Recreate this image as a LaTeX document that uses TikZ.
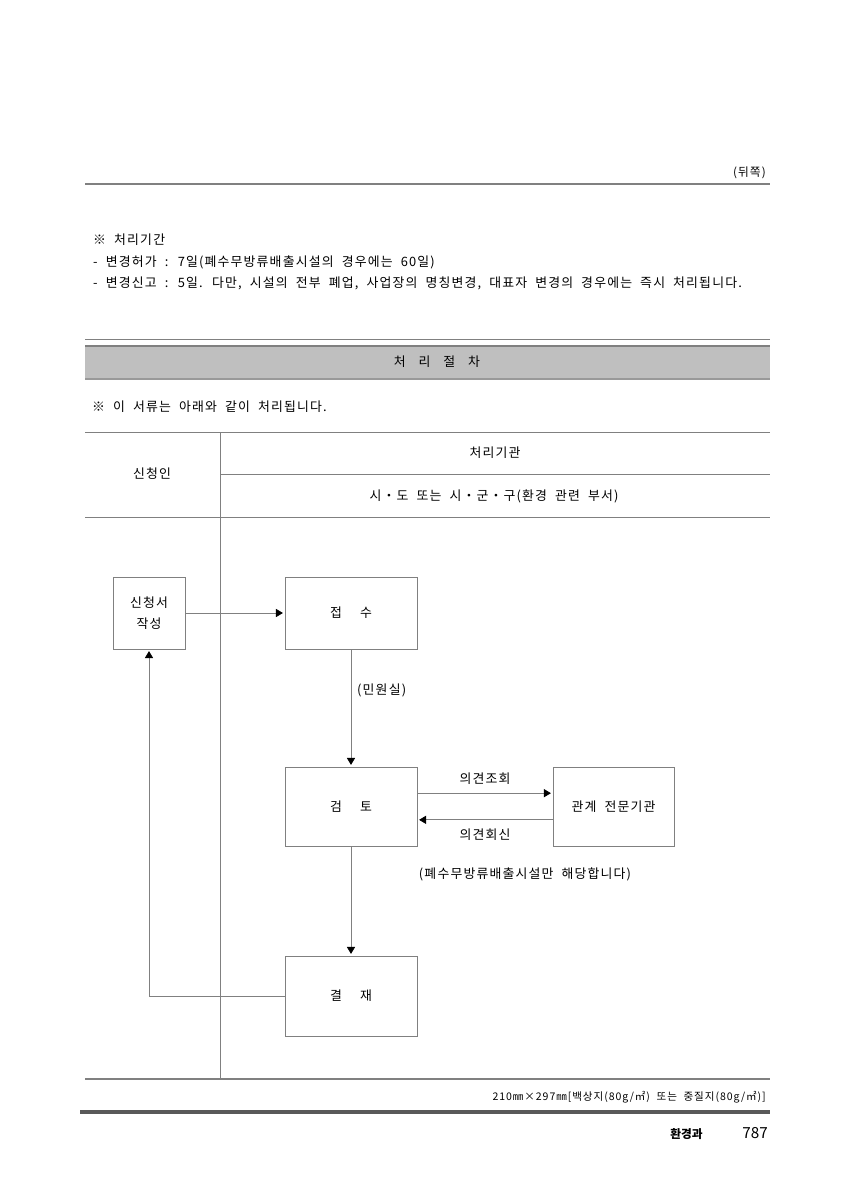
\documentclass[tikz,border=0pt]{standalone}
\usepackage{fontspec}
\setmainfont{Noto Sans CJK KR}[WordSpace=2.0, LetterSpace=9]
\usetikzlibrary{arrows.meta}

\tikzset{
  box/.style={draw=gray, line width=0.6pt, minimum width=3.96cm, minimum height=2.16cm, inner sep=0pt, font=\fontsize{11}{18}\selectfont},
  flow/.style={draw=gray, line width=0.6pt, -{Triangle[color=black, length=6pt, width=7pt]}, shorten >=1.5pt},
  txt/.style={inner sep=0pt, font=\fontsize{11}{13}\selectfont},
  rule/.style={gray, line width=0.8pt},
}

\begin{document}
\begin{tikzpicture}[x=0.03cm, y=-0.03cm]
  \useasboundingbox (0,0) rectangle (848,1200);

  % page head
  \node[txt, anchor=east, font=\fontsize{10}{11}\selectfont] (dwijjok) at (766,173) {(뒤쪽)};
  \draw[gray, line width=2.4pt] (85,184) -- (770,184);

  \node[txt, anchor=west] (gigan) at (93,240) {※ 처리기간};
  \node[txt, anchor=west] (heoga) at (93,262) {- 변경허가 : 7일(폐수무방류배출시설의 경우에는 60일)};
  \node[txt, anchor=west] (singo) at (93,283) {- 변경신고 : 5일. 다만, 시설의 전부 폐업, 사업장의 명칭변경, 대표자 변경의 경우에는 즉시 처리됩니다.};

  % banner
  \draw[rule] (85,339) -- (770,339);
  \fill[gray!50] (85,346) rectangle (770,379);
  \draw[gray, line width=1.6pt] (85,346) -- (770,346);
  \draw[gray!80, line width=1.2pt] (85,379) -- (770,379);
  \node[txt] (jeolcha) at (437,362) {처\hspace{1em}리\hspace{1em}절\hspace{1em}차};
  \node[txt, anchor=west] (seoryu) at (92,407) {※ 이 서류는 아래와 같이 처리됩니다.};

  % table
  \draw[rule] (85,432) -- (770,432);
  \draw[rule] (220,474) -- (770,474);
  \draw[rule] (85,517) -- (770,517);
  \draw[rule] (220,432) -- (220,1079);
  \draw[gray, line width=1.4pt] (85,1079) -- (770,1079);
  \node[txt] (sinchungin) at (152,474) {신청인};
  \node[txt] (gigwan) at (495,453) {처리기관};
  \node[txt] (buseo) at (494,496) {시・도 또는 시・군・구(환경 관련 부서)};

  % flow
  \node[box, minimum width=2.16cm, align=center] (jakseong) at (149,613) {신청서\\작성};
  \node[box] (jeopsu) at (351,613) {접\hspace{1.4em}수};
  \node[box, minimum height=2.37cm] (geomto) at (351,806.5) {검\hspace{1.4em}토};
  \node[box, minimum width=3.63cm, minimum height=2.37cm] (jeonmun) at (613.5,806.5) {관계 전문기관};
  \node[box, minimum height=2.4cm] (gyeoljae) at (351,996) {결\hspace{1.4em}재};

  \draw[flow] (jakseong) -- (jeopsu);
  \draw[flow] (jeopsu) -- (geomto) node[txt, pos=0.35, right=5pt] {(민원실)};
  \draw[flow] ([yshift=0.4cm]geomto.east) -- ([yshift=0.4cm]jeonmun.west) node[txt, midway, above=7pt] {의견조회};
  \draw[flow] ([yshift=-0.4cm]jeonmun.west) -- ([yshift=-0.4cm]geomto.east) node[txt, midway, below=7pt] {의견회신};
  \node[txt] (pyesu) at (525,874) {(폐수무방류배출시설만 해당합니다)};
  \draw[flow] (geomto) -- (gyeoljae);
  \draw[flow] (gyeoljae.west) -| (jakseong.south);

  % page foot
  \node[txt, anchor=east, font=\fontsize{9}{10}\selectfont] (yongji) at (766,1097) {210㎜×297㎜[백상지(80g/㎡) 또는 중질지(80g/㎡)]};
  \draw[black!65, line width=4pt] (80,1112) -- (770,1112);
  \node[txt, anchor=east, font=\fontsize{10}{12}\selectfont\bfseries\addfontfeature{LetterSpace=0}] (gwa) at (703,1134) {환경과};
  \node[txt, anchor=east, font=\fontsize{13}{15}\selectfont\addfontfeature{LetterSpace=0}] (jjok) at (768,1133) {787};
\end{tikzpicture}
\end{document}
